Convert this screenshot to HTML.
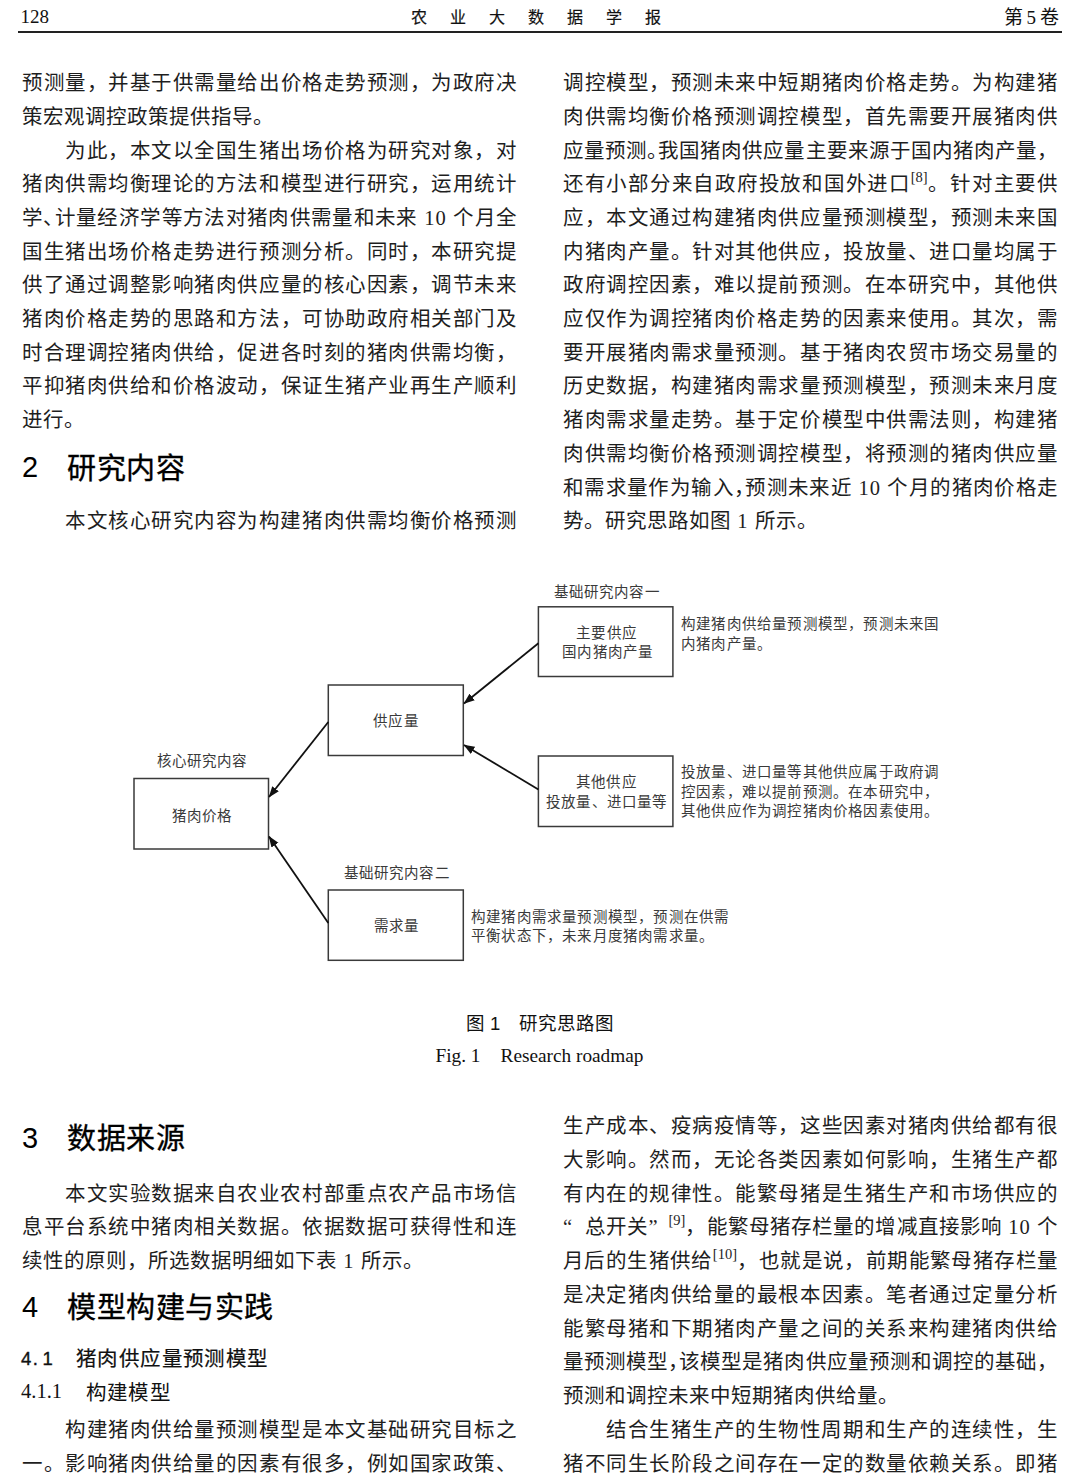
<!DOCTYPE html>
<html lang="zh-CN"><head><meta charset="utf-8"><style>
html,body{margin:0;padding:0;background:#fff}
body{width:1080px;height:1477px;position:relative;overflow:hidden;font-family:"Liberation Serif",serif;color:#1e1e1e}
.l{position:absolute;font-weight:300;width:495px;font-size:20.5px;line-height:34px;height:34px;white-space:nowrap;letter-spacing:1px}
.j{text-align:justify;text-align-last:justify}
.sp{font-size:14.5px;vertical-align:top;line-height:1;position:relative;top:3px;letter-spacing:0}
.hw{display:inline-block;width:11px;overflow:hidden;vertical-align:top;letter-spacing:0}
.q1{display:inline-block;width:22px;text-align:right}
.q2{display:inline-block;width:20px;text-align:left}
.h{position:absolute;white-space:nowrap;font-family:"Liberation Sans",sans-serif;font-size:29px;line-height:34px;color:#000}
.hn{display:inline-block;width:45px}
.ht{letter-spacing:0.5px;position:relative;top:1.5px;-webkit-text-stroke:0.35px #000}
.h2{position:absolute;white-space:nowrap;font-family:"Liberation Sans",sans-serif;font-size:20.5px;line-height:34px;color:#111}
.hn2{display:inline-block;width:55px;font-size:18.5px;letter-spacing:1.5px;position:relative;top:-1.5px;-webkit-text-stroke:0.35px #111}
.ht2{letter-spacing:1.4px;-webkit-text-stroke:0.2px #111}
.h3{position:absolute;white-space:nowrap;font-weight:300;font-size:20.5px;line-height:34px;color:#111}
.hn3{display:inline-block;width:65px;font-size:20.5px;position:relative;top:-1.5px}
.ht3{letter-spacing:1.2px}
.hd{position:absolute;white-space:nowrap;font-weight:300;font-size:18px;line-height:24px;color:#111}
.title{font-family:"Liberation Sans",sans-serif;font-size:16px;letter-spacing:23px;-webkit-text-stroke:0.2px #111}
.dt{position:absolute;white-space:nowrap;font-weight:300;font-size:14.5px;line-height:20px;color:#3a3a3a;letter-spacing:1.2px}
.cap1{position:absolute;white-space:nowrap;font-family:"Liberation Sans",sans-serif;font-size:18.5px;line-height:24px;color:#111}
.cap2{position:absolute;white-space:nowrap;font-size:19.3px;line-height:28px;color:#111}
</style></head><body>

<div class="hd" style="left:20.5px;top:5px;font-size:19px">128</div>
<div class="hd title" style="left:411px;top:6px">农业大数据学报</div>
<div class="hd" style="left:990px;top:6px;width:69px;text-align:right;font-size:19px">第<span style="padding:0 4px">5</span>卷</div>
<div style="position:absolute;left:18px;top:31px;width:1044px;height:2px;background:#222"></div>

<div class="l j" style="left:22px;top:66.3px">预测量，并基于供需量给出价格走势预测，为政府决</div>
<div class="l" style="left:22px;top:100.0px">策宏观调控政策提供指导。</div>
<div class="l j" style="left:65px;width:452px;top:133.7px">为此，本文以全国生猪出场价格为研究对象，对</div>
<div class="l j" style="left:22px;top:167.3px">猪肉供需均衡理论的方法和模型进行研究，运用统计</div>
<div class="l j" style="left:22px;top:201.0px">学<span class="hw">、</span>计量经济学等方法对猪肉供需量和未来 10 个月全</div>
<div class="l j" style="left:22px;top:234.7px">国生猪出场价格走势进行预测分析。同时，本研究提</div>
<div class="l j" style="left:22px;top:268.4px">供了通过调整影响猪肉供应量的核心因素，调节未来</div>
<div class="l j" style="left:22px;top:302.1px">猪肉价格走势的思路和方法，可协助政府相关部门及</div>
<div class="l j" style="left:22px;top:335.7px">时合理调控猪肉供给，促进各时刻的猪肉供需均衡，</div>
<div class="l j" style="left:22px;top:369.4px">平抑猪肉供给和价格波动，保证生猪产业再生产顺利</div>
<div class="l" style="left:22px;top:403.1px">进行。</div>
<div class="l j" style="left:65px;width:452px;top:504.1px">本文核心研究内容为构建猪肉供需均衡价格预测</div>
<div class="l j" style="left:563px;top:66.3px">调控模型，预测未来中短期猪肉价格走势。为构建猪</div>
<div class="l j" style="left:563px;top:100.0px">肉供需均衡价格预测调控模型，首先需要开展猪肉供</div>
<div class="l j" style="left:563px;top:133.7px">应量预测<span class="hw">。</span>我国猪肉供应量主要来源于国内猪肉产量，</div>
<div class="l j" style="left:563px;top:167.3px">还有小部分来自政府投放和国外进口<span class="sp">[8]</span>。针对主要供</div>
<div class="l j" style="left:563px;top:201.0px">应，本文通过构建猪肉供应量预测模型，预测未来国</div>
<div class="l j" style="left:563px;top:234.7px">内猪肉产量。针对其他供应，投放量、进口量均属于</div>
<div class="l j" style="left:563px;top:268.4px">政府调控因素，难以提前预测。在本研究中，其他供</div>
<div class="l j" style="left:563px;top:302.1px">应仅作为调控猪肉价格走势的因素来使用。其次，需</div>
<div class="l j" style="left:563px;top:335.7px">要开展猪肉需求量预测。基于猪肉农贸市场交易量的</div>
<div class="l j" style="left:563px;top:369.4px">历史数据，构建猪肉需求量预测模型，预测未来月度</div>
<div class="l j" style="left:563px;top:403.1px">猪肉需求量走势。基于定价模型中供需法则，构建猪</div>
<div class="l j" style="left:563px;top:436.8px">肉供需均衡价格预测调控模型，将预测的猪肉供应量</div>
<div class="l j" style="left:563px;top:470.5px">和需求量作为输入<span class="hw">，</span>预测未来近 10 个月的猪肉价格走</div>
<div class="l" style="left:563px;top:504.1px">势。研究思路如图 1 所示。</div>
<div class="l j" style="left:65px;width:452px;top:1176.5px">本文实验数据来自农业农村部重点农产品市场信</div>
<div class="l j" style="left:22px;top:1210.3px">息平台系统中猪肉相关数据。依据数据可获得性和连</div>
<div class="l" style="left:22px;top:1244.1px">续性的原则，所选数据明细如下表 1 所示。</div>
<div class="l j" style="left:65px;width:452px;top:1413.0px">构建猪肉供给量预测模型是本文基础研究目标之</div>
<div class="l j" style="left:22px;top:1446.8px">一。影响猪肉供给量的因素有很多，例如国家政策、</div>
<div class="l j" style="left:563px;top:1108.9px">生产成本、疫病疫情等，这些因素对猪肉供给都有很</div>
<div class="l j" style="left:563px;top:1142.7px">大影响。然而，无论各类因素如何影响，生猪生产都</div>
<div class="l j" style="left:563px;top:1176.5px">有内在的规律性。能繁母猪是生猪生产和市场供应的</div>
<div class="l j" style="left:563px;top:1210.3px"><span class="q1">“</span>总开关<span class="q2">”</span><span class="sp">[9]</span>，能繁母猪存栏量的增减直接影响 10 个</div>
<div class="l j" style="left:563px;top:1244.1px">月后的生猪供给<span class="sp">[10]</span>，也就是说，前期能繁母猪存栏量</div>
<div class="l j" style="left:563px;top:1277.9px">是决定猪肉供给量的最根本因素。笔者通过定量分析</div>
<div class="l j" style="left:563px;top:1311.6px">能繁母猪和下期猪肉产量之间的关系来构建猪肉供给</div>
<div class="l j" style="left:563px;top:1345.4px">量预测模型<span class="hw">，</span>该模型是猪肉供应量预测和调控的基础，</div>
<div class="l" style="left:563px;top:1379.2px">预测和调控未来中短期猪肉供给量。</div>
<div class="l j" style="left:606px;width:452px;top:1413.0px">结合生猪生产的生物性周期和生产的连续性，生</div>
<div class="l j" style="left:563px;top:1446.8px">猪不同生长阶段之间存在一定的数量依赖关系。即猪</div>

<div class="h" style="left:22px;top:450.3px"><span class="hn">2</span><span class="ht">研究内容</span></div>
<div class="h" style="left:22px;top:1120.9px"><span class="hn">3</span><span class="ht">数据来源</span></div>
<div class="h" style="left:22px;top:1289.9px"><span class="hn">4</span><span class="ht">模型构建与实践</span></div>
<div class="h2" style="left:21px;top:1342.4px"><span class="hn2">4.&#8202;1</span><span class="ht2">猪肉供应量预测模型</span></div>
<div class="h3" style="left:21px;top:1375.7px"><span class="hn3">4.1.1</span><span class="ht3">构建模型</span></div>


<svg style="position:absolute;left:0;top:0" width="1080" height="1477" viewBox="0 0 1080 1477">
<defs><marker id="ah" viewBox="0 0 11 9" refX="10.5" refY="4.5" markerWidth="11" markerHeight="9" markerUnits="userSpaceOnUse" orient="auto"><path d="M0,0.3 L11,4.5 L0,8.7 z" fill="#111"/></marker></defs>
<g fill="none" stroke="#3a3a3a" stroke-width="1.5">
<rect x="134" y="778.5" width="134.5" height="70.5"/>
<rect x="328.3" y="685" width="135" height="70.5"/>
<rect x="328.3" y="890" width="135" height="70.3"/>
<rect x="538.4" y="606.8" width="134.5" height="69.7"/>
<rect x="538.4" y="756" width="134.5" height="70.5"/>
</g>
<g stroke="#111" stroke-width="1.8" fill="none">
<line x1="328.3" y1="722" x2="269" y2="797" marker-end="url(#ah)"/>
<line x1="328.3" y1="923" x2="269" y2="836.5" marker-end="url(#ah)"/>
<line x1="538.4" y1="643.3" x2="464" y2="703.5" marker-end="url(#ah)"/>
<line x1="538.4" y1="789.4" x2="464" y2="745" marker-end="url(#ah)"/>
</g>
</svg>

<div class="dt" style="left:156.5px;top:750.8px;">核心研究内容</div>
<div class="dt" style="left:171.5px;top:805.5px;">猪肉价格</div>
<div class="dt" style="left:373.3px;top:710.8px;">供应量</div>
<div class="dt" style="left:374px;top:916.3px;">需求量</div>
<div class="dt" style="left:343.5px;top:863.3px;">基础研究内容二</div>
<div class="dt" style="left:553.5px;top:581.8px;">基础研究内容一</div>
<div class="dt" style="left:576.2px;top:623.4px;">主要供应</div>
<div class="dt" style="left:562.3px;top:642.4px;">国内猪肉产量</div>
<div class="dt" style="left:576px;top:771.9px;">其他供应</div>
<div class="dt" style="left:546px;top:792.0px;">投放量、进口量等</div>
<div class="dt" style="left:681px;top:614.4px;">构建猪肉供给量预测模型，预测未来国</div>
<div class="dt" style="left:681px;top:633.8px;">内猪肉产量。</div>
<div class="dt" style="left:681px;top:762.1px;">投放量、进口量等其他供应属于政府调</div>
<div class="dt" style="left:681px;top:781.5px;">控因素，难以提前预测。在本研究中，</div>
<div class="dt" style="left:681px;top:801.0px;">其他供应作为调控猪肉价格因素使用。</div>
<div class="dt" style="left:471px;top:906.9px;">构建猪肉需求量预测模型，预测在供需</div>
<div class="dt" style="left:471px;top:925.9px;">平衡状态下，未来月度猪肉需求量。</div>

<div class="cap1" style="left:466px;top:1011.5px">图<span style="font-family:'Liberation Sans',sans-serif;padding:0 0 0 5px">1</span><span style="padding-left:19px">研究思路图</span></div>
<div class="cap2" style="left:435.5px;top:1041.5px">Fig. 1<span style="padding-left:20px">Research roadmap</span></div>

</body></html>
